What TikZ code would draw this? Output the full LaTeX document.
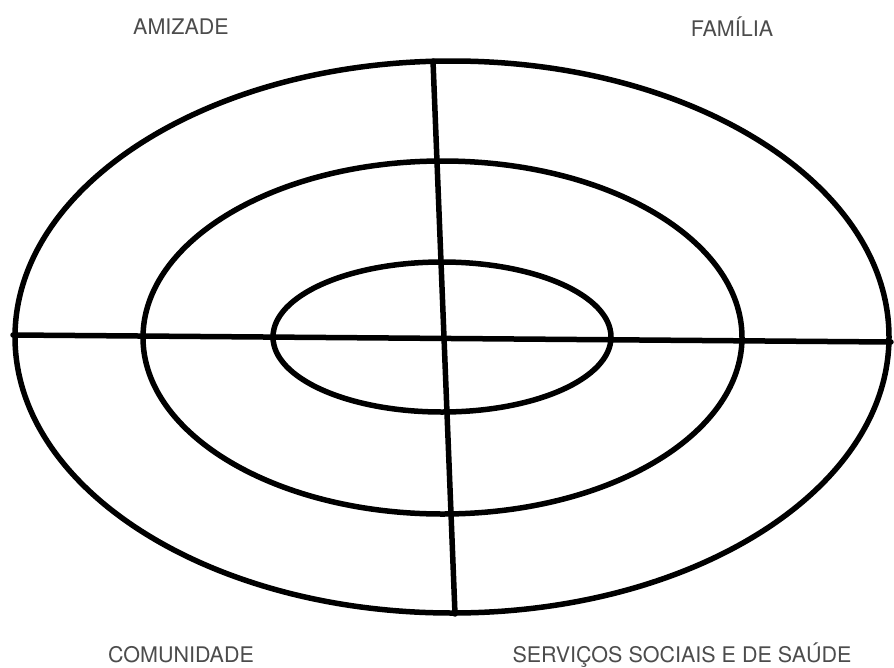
\documentclass[tikz,border=0pt]{standalone}
\usepackage{fontspec}
\setmainfont{TeX Gyre Heros}
\begin{document}
\begin{tikzpicture}[x=1pt,y=-1pt,
  ring/.style={line width=5.5pt,draw=black},
  axis/.style={line width=5.5pt,draw=black,line cap=round},
  lbl/.style={font=\fontsize{21.5}{21.5}\selectfont,text=black!70,inner sep=0pt,anchor=center}]
\useasboundingbox (0,0) rectangle (894,667);
\draw[ring] (452,337) ellipse [x radius=437, y radius=276];
\draw[ring] (442.5,337.5) ellipse [x radius=299.5, y radius=176.5];
\draw[ring] (442,337) ellipse [x radius=169, y radius=75];
\coordinate (top) at (433,61);
\coordinate (bot) at (455,614);
\coordinate (lft) at (13,335);
\coordinate (rgt) at (891,342);
\draw[axis] (top) -- (bot);
\draw[axis] (lft) -- (rgt);
\node[lbl] (amizade) at (181,27) {AMIZADE};
\node[lbl] (familia) at (732,27) {FAMÍLIA};
\node[lbl] (comunidade) at (181,655) {COMUNIDADE};
\node[lbl] (servicos) at (682,655) {SERVIÇOS SOCIAIS E DE SAÚDE};
\end{tikzpicture}
\end{document}
